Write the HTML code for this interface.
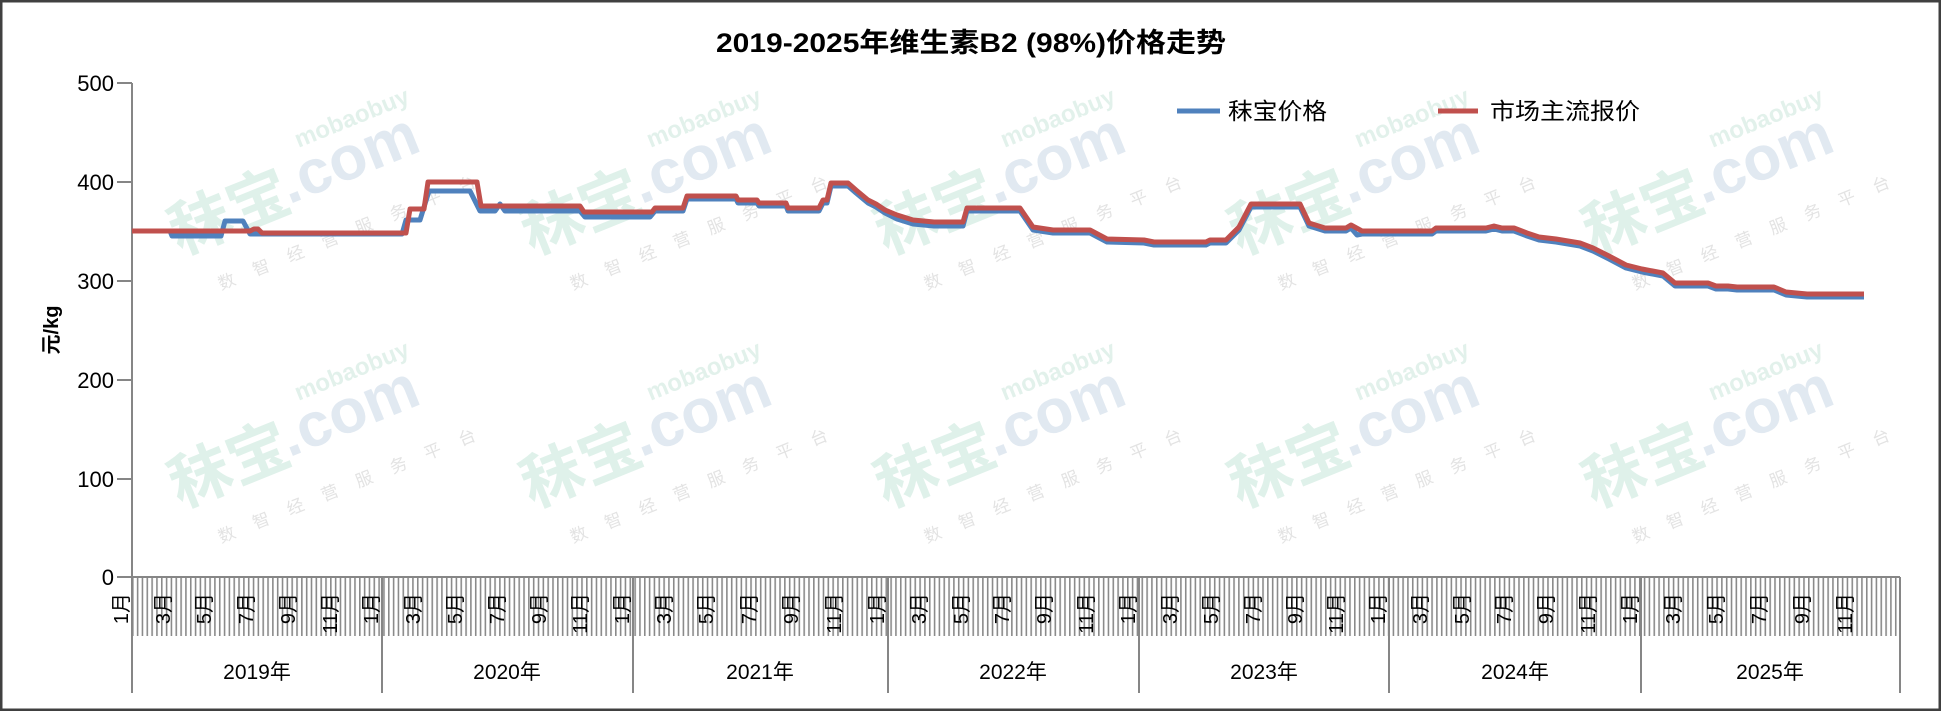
<!DOCTYPE html>
<html><head><meta charset="utf-8"><style>
html,body{margin:0;padding:0;background:#fff;}
svg{display:block;}
</style></head><body>
<svg width="1941" height="711" viewBox="0 0 1941 711" xmlns="http://www.w3.org/2000/svg" font-family="Liberation Sans, Noto Sans CJK SC, sans-serif">
<defs>
<pattern id="tk" x="132" y="0" width="4.83" height="711" patternUnits="userSpaceOnUse">
<rect x="0" y="0" width="1.6" height="711" fill="#8a8a8a"/>
</pattern>
<g id="wm">
<text x="0" y="0" font-size="62" font-weight="bold" fill="#dff1ea">秣宝</text>
<text x="120" y="-6" font-size="62" font-weight="bold" fill="#e1e9f1">.com</text>
<text x="150" y="-55" font-size="24" font-weight="bold" fill="#e2f1eb">mobaobuy</text>
<text x="25" y="48" font-size="17" fill="#e3e3e3" letter-spacing="20">数智经营服务平台</text>
</g>
</defs>
<rect x="0" y="0" width="1941" height="711" fill="#fff"/>
<rect x="1" y="1" width="1939" height="709" fill="none" stroke="#404040" stroke-width="3"/>

<g transform="translate(180,255) rotate(-22)"><use href="#wm"/></g>
<g transform="translate(532,255) rotate(-22)"><use href="#wm"/></g>
<g transform="translate(886,255) rotate(-22)"><use href="#wm"/></g>
<g transform="translate(1240,255) rotate(-22)"><use href="#wm"/></g>
<g transform="translate(1594,255) rotate(-22)"><use href="#wm"/></g>
<g transform="translate(180,508) rotate(-22)"><use href="#wm"/></g>
<g transform="translate(532,508) rotate(-22)"><use href="#wm"/></g>
<g transform="translate(886,508) rotate(-22)"><use href="#wm"/></g>
<g transform="translate(1240,508) rotate(-22)"><use href="#wm"/></g>
<g transform="translate(1594,508) rotate(-22)"><use href="#wm"/></g>

<text x="971" y="52" font-size="27" font-weight="bold" text-anchor="middle" textLength="510" lengthAdjust="spacingAndGlyphs">2019-2025年维生素B2 (98%)价格走势</text>

<line x1="1177" y1="111" x2="1220" y2="111" stroke="#4f81bd" stroke-width="5"/>
<text x="1228" y="119" font-size="23" textLength="99" lengthAdjust="spacingAndGlyphs">秣宝价格</text>
<line x1="1438" y1="111" x2="1478" y2="111" stroke="#c0504d" stroke-width="5"/>
<text x="1490" y="119" font-size="23" textLength="150" lengthAdjust="spacingAndGlyphs">市场主流报价</text>

<g stroke="#868686" stroke-width="2">
<line x1="132" y1="83" x2="132" y2="577"/>
<line x1="117" y1="83" x2="132" y2="83"/>
<line x1="117" y1="182" x2="132" y2="182"/>
<line x1="117" y1="281" x2="132" y2="281"/>
<line x1="117" y1="380" x2="132" y2="380"/>
<line x1="117" y1="479" x2="132" y2="479"/>
<line x1="117" y1="577" x2="132" y2="577"/>
</g>
<g font-size="22" text-anchor="end">
<text x="114" y="91">500</text>
<text x="114" y="190">400</text>
<text x="114" y="289">300</text>
<text x="114" y="388">200</text>
<text x="114" y="487">100</text>
<text x="114" y="585">0</text>
</g>
<text transform="translate(58,330) rotate(-90)" font-size="20" font-weight="bold" text-anchor="middle">元/kg</text>

<rect x="132" y="577" width="1768" height="59" fill="url(#tk)"/>
<g stroke="#868686" stroke-width="2">
<line x1="132" y1="577" x2="1900" y2="577"/>
<line x1="132" y1="577" x2="132" y2="693"/>
<line x1="382" y1="577" x2="382" y2="693"/>
<line x1="633" y1="577" x2="633" y2="693"/>
<line x1="888" y1="577" x2="888" y2="693"/>
<line x1="1139" y1="577" x2="1139" y2="693"/>
<line x1="1389" y1="577" x2="1389" y2="693"/>
<line x1="1641" y1="577" x2="1641" y2="693"/>
<line x1="1900" y1="577" x2="1900" y2="693"/>
</g>
<g font-size="20" text-anchor="end" dominant-baseline="central">
<text transform="translate(122,593) rotate(-90)">1月</text>
<text transform="translate(164,593) rotate(-90)">3月</text>
<text transform="translate(205,593) rotate(-90)">5月</text>
<text transform="translate(247,593) rotate(-90)">7月</text>
<text transform="translate(289,593) rotate(-90)">9月</text>
<text transform="translate(331,593) rotate(-90)">11月</text>
<text transform="translate(372,593) rotate(-90)">1月</text>
<text transform="translate(414,593) rotate(-90)">3月</text>
<text transform="translate(456,593) rotate(-90)">5月</text>
<text transform="translate(498,593) rotate(-90)">7月</text>
<text transform="translate(540,593) rotate(-90)">9月</text>
<text transform="translate(581,593) rotate(-90)">11月</text>
<text transform="translate(623,593) rotate(-90)">1月</text>
<text transform="translate(665,593) rotate(-90)">3月</text>
<text transform="translate(707,593) rotate(-90)">5月</text>
<text transform="translate(750,593) rotate(-90)">7月</text>
<text transform="translate(792,593) rotate(-90)">9月</text>
<text transform="translate(835,593) rotate(-90)">11月</text>
<text transform="translate(878,593) rotate(-90)">1月</text>
<text transform="translate(920,593) rotate(-90)">3月</text>
<text transform="translate(962,593) rotate(-90)">5月</text>
<text transform="translate(1003,593) rotate(-90)">7月</text>
<text transform="translate(1045,593) rotate(-90)">9月</text>
<text transform="translate(1087,593) rotate(-90)">11月</text>
<text transform="translate(1129,593) rotate(-90)">1月</text>
<text transform="translate(1171,593) rotate(-90)">3月</text>
<text transform="translate(1212,593) rotate(-90)">5月</text>
<text transform="translate(1254,593) rotate(-90)">7月</text>
<text transform="translate(1296,593) rotate(-90)">9月</text>
<text transform="translate(1337,593) rotate(-90)">11月</text>
<text transform="translate(1379,593) rotate(-90)">1月</text>
<text transform="translate(1421,593) rotate(-90)">3月</text>
<text transform="translate(1463,593) rotate(-90)">5月</text>
<text transform="translate(1505,593) rotate(-90)">7月</text>
<text transform="translate(1547,593) rotate(-90)">9月</text>
<text transform="translate(1589,593) rotate(-90)">11月</text>
<text transform="translate(1631,593) rotate(-90)">1月</text>
<text transform="translate(1674,593) rotate(-90)">3月</text>
<text transform="translate(1717,593) rotate(-90)">5月</text>
<text transform="translate(1760,593) rotate(-90)">7月</text>
<text transform="translate(1803,593) rotate(-90)">9月</text>
<text transform="translate(1846,593) rotate(-90)">11月</text>
</g>
<g font-size="21" text-anchor="middle">
<text x="257" y="679">2019年</text>
<text x="507" y="679">2020年</text>
<text x="760" y="679">2021年</text>
<text x="1013" y="679">2022年</text>
<text x="1264" y="679">2023年</text>
<text x="1515" y="679">2024年</text>
<text x="1770" y="679">2025年</text>
</g>

<polyline fill="none" stroke="#4f81bd" stroke-width="5" stroke-linejoin="round" points="132,231 170,231 172,236 221,236 225,221 243,221 250,234 263,234 402,234 406,220 420,220 429,191 470,191 480,211 495,211 500,204 505,211 580,211 585,217 650,217 655,211 683,211 687,199 736,199 738,203 757,203 759,206 786,206 788,211 819,211 823,203 827,203 831,186 848,186 856,193 868,203 876,207 885,213 897,219 913,224 934,226 963,226 967,211 1020,211 1033,230 1053,233 1090,233 1107,242 1144,243 1154,245 1206,245 1210,243 1226,243 1239,230 1251,207 1300,207 1309,226 1325,231 1346,231 1351,228 1357,235 1362,234 1432,234 1436,231 1486,231 1494,229 1502,231 1514,231 1527,236 1539,240 1556,242 1580,246 1593,251 1609,259 1626,268 1642,272 1663,276 1675,286 1708,286 1716,289 1728,289 1737,290 1774,290 1786,295 1807,297 1864,297"/>
<polyline fill="none" stroke="#c0504d" stroke-width="5" stroke-linejoin="round" points="132,231 250,231 254,229 258,229 262,233 406,233 410,209 424,209 428,182 477,182 481,206 580,206 584,212 652,212 655,208 683,208 687,196 736,196 738,200 757,200 759,203 786,203 788,208 819,208 823,200 827,200 831,183 848,183 856,190 868,200 876,204 885,210 897,215 913,220 934,222 963,222 967,208 1020,208 1033,227 1053,230 1090,230 1107,239 1144,240 1154,242 1206,242 1210,240 1226,240 1239,227 1251,204 1300,204 1309,223 1325,228 1346,228 1351,225 1362,231 1432,231 1436,228 1486,228 1494,226 1502,228 1514,228 1527,233 1539,237 1556,239 1580,243 1593,248 1609,256 1626,265 1642,269 1663,273 1675,283 1708,283 1716,286 1728,286 1737,287 1774,287 1786,292 1807,294 1864,294"/>
</svg>
</body></html>
